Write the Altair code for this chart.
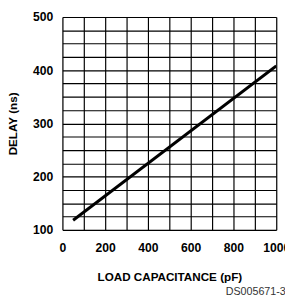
import altair as alt
import pandas as pd

cap_pf = [50, 1000]
delay_ns = [118, 408]

x_grid = list(range(0, 1001, 100))
y_grid = list(range(100, 501, 25))

df = pd.DataFrame({"cap": cap_pf, "delay": delay_ns})

FONT = "Liberation Sans"
style = dict(labelFont=FONT, labelFontSize=12.5, labelFontWeight="bold", labelColor="black",
             titleFont=FONT, titleFontSize=12, titleFontWeight="bold", titleColor="black",
             grid=True, gridColor="black", gridOpacity=1, gridWidth=1.2,
             ticks=False, domain=False, format="d", labelFlush=False)

base = alt.Chart(df)

line = base.mark_line(color="black", strokeWidth=3, clip=True).encode(
    x=alt.X("cap:Q", scale=alt.Scale(domain=[0, 1000], nice=False, zero=False),
            axis=alt.Axis(values=x_grid, labelExpr="datum.value % 200 == 0 ? datum.label : ''",
                          title="LOAD CAPACITANCE (pF)", labelPadding=12, titlePadding=19,
                          labelOverlap=False, labelBound=False, **style)),
    y=alt.Y("delay:Q", scale=alt.Scale(domain=[100, 500], nice=False, zero=False),
            axis=alt.Axis(values=y_grid, labelExpr="datum.value % 100 == 0 ? datum.label : ''",
                          title="DELAY (ns)", labelPadding=10, titlePadding=13,
                          labelOverlap=False, **style)),
)

note = alt.Chart(pd.DataFrame({"t": ["DS005671-39"]})).mark_text(
    align="left", baseline="middle", font=FONT, fontSize=11, color="#333333"
).encode(text="t:N", x=alt.value(168), y=alt.value(283))

chart = alt.layer(line, note).properties(
    width=220, height=219,
    autosize=alt.AutoSizeParams(type="none"),
    padding={"left": 56, "top": 5, "right": 9, "bottom": 70},
).configure_view(
    stroke="black", strokeWidth=2
).configure(background="white")

chart.save("out.html", embed_options={"renderer": "svg", "actions": False})
